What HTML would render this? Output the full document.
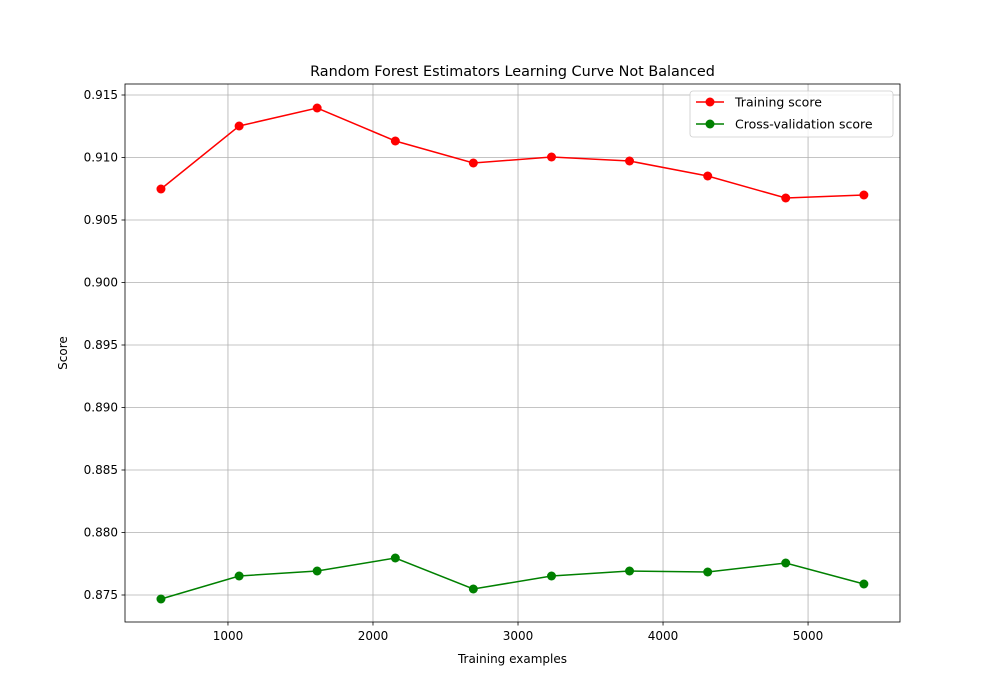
<!DOCTYPE html>
<html><head><meta charset="utf-8"><style>body{margin:0;background:#fff}svg{display:block;font-family:"DejaVu Sans","Liberation Sans",sans-serif}</style></head>
<body>
<svg id="chart" width="1000" height="700"></svg>
<script>
const trainSizes=[538,1077,1615,2154,2692,3231,3769,4308,4846,5385];
const trainScores=[0.90748,0.91252,0.91396,0.91132,0.90956,0.91004,0.90972,0.90852,0.90676,0.9070];
const cvScores=[0.87468,0.87652,0.87692,0.87796,0.87548,0.87652,0.87692,0.87684,0.87756,0.87588];
const xTicks=[1000,2000,3000,4000,5000];
const yTicks=[0.875,0.880,0.885,0.890,0.895,0.900,0.905,0.910,0.915];
const L=125,R=900,T=84,B=622;
const xMin=290,xMax=5634,yMin=0.87284,yMax=0.91588;
const sx=v=>L+(v-xMin)/(xMax-xMin)*(R-L);
const sy=v=>B-(v-yMin)/(yMax-yMin)*(B-T);
const svg=document.getElementById('chart');const NS='http://www.w3.org/2000/svg';
function mk(t,a,p){const e=document.createElementNS(NS,t);for(const k in a)e.setAttribute(k,a[k]);(p||svg).appendChild(e);return e;}
xTicks.forEach(v=>{const x=sx(v);
const g=mk('line',{x1:x,x2:x,y1:T,y2:B,stroke:'#b0b0b0','stroke-width':0.8});

mk('line',{x1:x,x2:x,y1:B,y2:B+3.5,stroke:'#000','stroke-width':0.8});
const t=mk('text',{x:x,y:B+18,'text-anchor':'middle','font-size':12});t.textContent=v;
});
yTicks.forEach(v=>{const y=sy(v);
const g=mk('line',{x1:L,x2:R,y1:y,y2:y,stroke:'#b0b0b0','stroke-width':0.8});

mk('line',{x1:L-3.5,x2:L,y1:y,y2:y,stroke:'#000','stroke-width':0.8});
const t=mk('text',{x:L-7,y:y+4,'text-anchor':'end','font-size':12});t.textContent=v.toFixed(3);
});
function series(vals,color,name){
const p=mk('polyline',{points:trainSizes.map((s,i)=>sx(s)+','+sy(vals[i])).join(' '),fill:'none',stroke:color,'stroke-width':1.5});

trainSizes.forEach((s,i)=>{const c=mk('circle',{cx:sx(s),cy:sy(vals[i]),r:4.5,fill:color});
});}
series(trainScores,'#ff0000','training-score');
series(cvScores,'#008000','cv-score');
const fr=mk('rect',{x:L,y:T,width:R-L,height:B-T,fill:'none',stroke:'#000','stroke-width':0.8});

const ti=mk('text',{x:(L+R)/2,y:76,'text-anchor':'middle','font-size':14.4});ti.textContent='Random Forest Estimators Learning Curve Not Balanced';

const xl=mk('text',{x:(L+R)/2,y:663,'text-anchor':'middle','font-size':12});xl.textContent='Training examples';

const yl=mk('text',{x:67,y:(T+B)/2,'text-anchor':'middle','font-size':12,transform:'rotate(-90 67 '+((T+B)/2)+')'});yl.textContent='Score';

const lg=mk('g',{});
mk('rect',{x:690,y:91,width:203,height:46,rx:3,fill:'#fff',stroke:'#ccc','stroke-width':0.8,'fill-opacity':0.8},lg);
[['Training score','#ff0000',102],['Cross-validation score','#008000',124]].forEach(([lab,c,y])=>{
const e=mk('g',{},lg);
mk('line',{x1:696,x2:724,y1:y,y2:y,stroke:c,'stroke-width':1.5},e);
mk('circle',{cx:710,cy:y,r:4.5,fill:c},e);
const t=mk('text',{x:735,y:y+4.5,'font-size':12.5},e);t.textContent=lab;});
</script>
</body></html>
